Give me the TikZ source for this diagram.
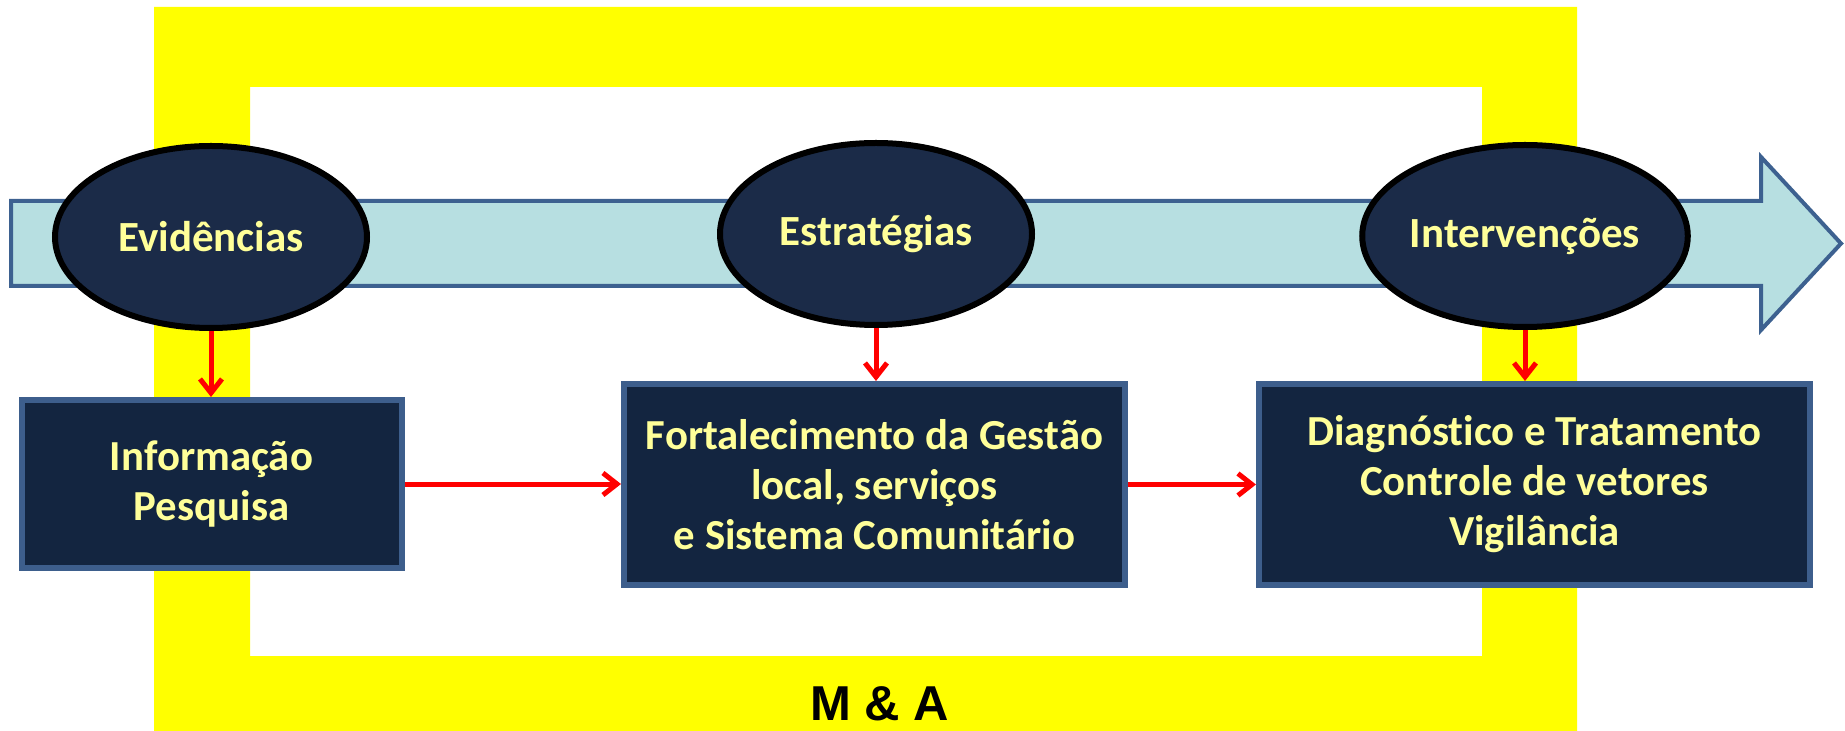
\documentclass[tikz,border=0pt]{standalone}
\usepackage{fontspec}
\setmainfont{Carlito}[Ligatures=CommonOff]
\newfontfamily\arialfont{Liberation Sans}
\usetikzlibrary{shapes.geometric,arrows.meta}
\definecolor{boxnavy}{RGB}{19,37,64}
\definecolor{ovalnavy}{RGB}{27,43,72}
\definecolor{boxedge}{RGB}{61,94,140}
\definecolor{txtyellow}{RGB}{255,255,153}
\definecolor{band}{RGB}{183,223,225}
\definecolor{bandedge}{RGB}{61,97,144}
\definecolor{frameyellow}{RGB}{255,255,0}
\definecolor{arrowred}{RGB}{255,0,0}
\begin{document}
\begin{tikzpicture}[x=0.5pt,y=-0.5pt,>={Straight Barb[length=7pt,width=11pt]},
  fase/.style={ellipse, draw=black, line width=3pt, fill=ovalnavy, text=txtyellow,
    font=\bfseries\fontsize{21.5}{25}\selectfont, minimum width=156pt, minimum height=91pt, inner sep=0pt},
  caixa/.style={rectangle, draw=boxedge, line width=3pt, fill=boxnavy, text=txtyellow,
    font=\bfseries\fontsize{21.4}{25}\selectfont, align=center, inner sep=0pt},
  seta/.style={->, arrowred, line width=2.5pt}]
  \useasboundingbox (0,0) rectangle (1845,731);
  % moldura amarela (M & A)
  \fill[frameyellow, even odd rule] (154,7) rectangle (1577,731) (250,87) rectangle (1482,656);
  % seta grande
  \draw[fill=band, draw=bandedge, line width=2pt] (11,201) -- (1761,201) -- (1761,157) -- (1841,243.5)
    -- (1761,330) -- (1761,286) -- (11,286) -- cycle;
  % fases
  \node[fase] (ev) at (211,237) {Evidências};
  \node[fase] (es) at (876,234) {Estratégias};
  \node[fase] (iv) at (1525,236) {Intervenções};
  % caixas
  \node[caixa, minimum width=190pt, minimum height=84pt] (info) at (211.5,484) {Informação\\Pesquisa};
  \node[caixa, minimum width=250.5pt, minimum height=100.5pt] (fort) at (874.5,484.5)
    {Fortalecimento da Gestão\\local, serviços\\e Sistema Comunitário};
  \node[caixa, minimum width=275.5pt, minimum height=100.5pt] (diag) at (1534.5,484.5)
    {Diagnóstico e Tratamento\\Controle de vetores\\Vigilância};
  % setas
  \draw[seta] (ev.south) -- (ev.south |- info.north);
  \draw[seta] (es.south) -- (es.south |- fort.north);
  \draw[seta] (iv.south) -- (iv.south |- diag.north);
  \draw[seta] (info.east) -- (fort.west |- info.east);
  \draw[seta] (fort.east) -- (diag.west);
  \node[font=\arialfont\bfseries\fontsize{24.5}{28}\selectfont] (ma) at (880,704) {M \& A};
\end{tikzpicture}
\end{document}
